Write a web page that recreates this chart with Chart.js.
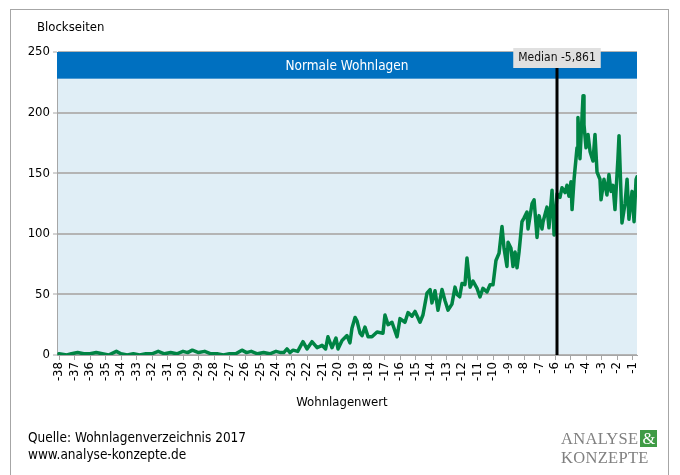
<!DOCTYPE html>
<html>
<head>
<meta charset="utf-8">
<script src="https://cdn.jsdelivr.net/npm/chart.js@4"></script>
<style>
  body { margin: 0; background: #fff; font-family: 'DejaVu Sans Condensed', 'DejaVu Sans', sans-serif; }
  #wrap { position: relative; width: 680px; height: 475px; overflow: hidden; }
  #frame { position: absolute; left: 10px; top: 9px; width: 657px; height: 500px; border: 1px solid #a6a6a6; }
  canvas { position: absolute; left: 0; top: 0; }
  .txt { position: absolute; font-size: 13px; color: #000; white-space: nowrap; }
  .foot { font-size: 13.5px; }
  #logo { position: absolute; left: 561px; top: 429px; font-family: 'Liberation Serif', serif; color: #808080; font-size: 16.5px; line-height: 19px; letter-spacing: 0.3px; }
  #logo .amp { display: inline-block; background: #3f9b45; color: #fff; width: 17px; text-align: center; line-height: 17px; margin-left: 2px; }
</style>
</head>
<body>
<div id="wrap">
  <div id="frame"></div>
  <canvas id="chart" width="680" height="475"></canvas>
  <div class="txt" style="left:37px; top:19px;">Blockseiten</div>
  <div class="txt" style="left:0; width:684px; text-align:center; top:394px;">Wohnlagenwert</div>
  <div class="txt foot" style="left:28px; top:429px;">Quelle: Wohnlagenverzeichnis 2017</div>
  <div class="txt foot" style="left:28px; top:446px;">www.analyse-konzepte.de</div>
  <div id="logo">ANALYSE<span class="amp">&amp;</span><br>KONZEPTE</div>
</div>
<script>
// Wohnlagenwert (x) and number of Blockseiten (y)
const xValues = [
  -38.0, -37.5, -37.2, -36.8, -36.4, -36.0, -35.6, -35.2, -34.8, -34.3,
  -34.0, -33.6, -33.2, -32.8, -32.4, -32.0, -31.6, -31.2, -30.8, -30.4,
  -30.0, -29.7, -29.4, -29.0, -28.6, -28.2, -27.8, -27.4, -27.0, -26.6,
  -26.2, -25.9, -25.6, -25.2, -24.8, -24.4, -24.0, -23.7, -23.5, -23.29,
  -23.1, -22.9, -22.6, -22.26, -22.0, -21.68, -21.35, -21.03, -20.8, -20.65,
  -20.39, -20.13, -20.0, -19.74, -19.42, -19.23, -19.10, -18.90, -18.77, -18.58,
  -18.45, -18.26, -18.06, -17.81, -17.48, -17.10, -16.97, -16.77, -16.52, -16.19,
  -16.0, -15.68, -15.48, -15.23, -15.03, -14.71, -14.52, -14.26, -14.06, -13.94,
  -13.74, -13.55, -13.29, -13.10, -12.90, -12.65, -12.45, -12.32, -12.15, -12.0,
  -11.81, -11.68, -11.48, -11.29, -11.03, -10.84, -10.65, -10.39, -10.19, -10.0,
  -9.81, -9.61, -9.42, -9.29, -9.10, -9.03, -8.84, -8.71, -8.58, -8.45,
  -8.32, -8.13, -8.0, -7.81, -7.74, -7.48, -7.35, -7.16, -7.03, -6.84,
  -6.77, -6.52, -6.39, -6.19, -6.06, -5.87, -5.68, -5.55, -5.35, -5.23,
  -5.10, -4.97, -4.90, -4.77, -4.58, -4.52, -4.39, -4.19, -4.13, -4.0,
  -3.87, -3.74, -3.55, -3.42, -3.29, -3.10, -3.03, -2.84, -2.65, -2.52,
  -2.39, -2.26, -2.13, -1.94, -1.87, -1.68, -1.48, -1.35, -1.23, -1.03,
  -0.90, -0.77, -0.71
];
const blockseiten = [
  1, 0, 1, 2, 1, 1, 2, 1, 0, 3,
  1, 0, 1, 0, 1, 1, 3, 1, 2, 1,
  3, 2, 4, 2, 3, 1, 1, 0, 1, 1,
  4, 2, 3, 1, 2, 1, 3, 2, 2, 5,
  2, 4, 3, 11, 5, 11, 6, 8, 5, 15,
  6, 14, 5, 12, 16, 10, 22, 31, 28, 18,
  16, 23, 15, 15, 19, 18, 33, 25, 27, 15,
  30, 27, 35, 32, 36, 27, 33, 51, 54, 43,
  53, 37, 54, 45, 37, 42, 56, 50, 48, 59,
  58, 80, 56, 61, 55, 48, 55, 52, 58, 58,
  78, 84, 106, 88, 73, 93, 88, 73, 85, 72,
  85, 110, 113, 118, 104, 125, 128, 97, 115, 104,
  110, 122, 105, 136, 99, 133, 130, 138, 134, 140,
  131, 143, 120, 145, 171, 196, 162, 214, 190, 171,
  182, 168, 160, 182, 151, 145, 128, 145, 132, 149,
  135, 140, 120, 162, 181, 109, 125, 145, 112, 135,
  110, 145, 147
];
const xTicks = [];
for (let t = -38; t <= -1; t++) xTicks.push(t);
const yTicks = [0, 50, 100, 150, 200, 250];

const medianValue = -5.861;
const medianLabel = 'Median -5,861';
const bandTitle = 'Normale Wohnlagen';
const bandBottom = 228;

const decor = {
  id: 'decor',
  beforeDraw(chart) {
    const { ctx, chartArea: a } = chart;
    ctx.save();
    ctx.fillStyle = '#e0eef6';
    ctx.fillRect(a.left, a.top, a.right - a.left, a.bottom - a.top);
    ctx.restore();
  },
  beforeDatasetsDraw(chart) {
    const { ctx, chartArea: a, scales } = chart;
    const yb = scales.y.getPixelForValue(bandBottom);
    ctx.save();
    ctx.fillStyle = '#0070c0';
    ctx.fillRect(a.left, a.top, a.right - a.left, yb - a.top);
    ctx.fillStyle = '#fff';
    ctx.font = "13.5px 'DejaVu Sans Condensed', 'DejaVu Sans', sans-serif";
    ctx.textAlign = 'center';
    ctx.textBaseline = 'middle';
    ctx.fillText(bandTitle, (a.left + a.right) / 2, (a.top + yb) / 2 + 1);
    ctx.restore();
  },
  afterDatasetsDraw(chart) {
    const { ctx, chartArea: a, scales } = chart;
    const xm = Math.round(scales.x.getPixelForValue(medianValue));
    ctx.save();
    ctx.strokeStyle = '#000';
    ctx.lineWidth = 3;
    ctx.beginPath();
    ctx.moveTo(xm, a.top + 10);
    ctx.lineTo(xm, a.bottom);
    ctx.stroke();
    ctx.font = "12px 'DejaVu Sans Condensed', 'DejaVu Sans', sans-serif";
    const w = ctx.measureText(medianLabel).width + 10;
    ctx.fillStyle = '#e0e0e0';
    ctx.fillRect(xm - w / 2, a.top - 4, w, 20);
    ctx.fillStyle = '#111';
    ctx.textAlign = 'center';
    ctx.textBaseline = 'middle';
    ctx.fillText(medianLabel, xm, a.top + 6);
    ctx.restore();
  }
};

new Chart(document.getElementById('chart'), {
  type: 'line',
  data: {
    datasets: [{
      data: xValues.map((x, i) => ({ x: x, y: blockseiten[i] })),
      borderColor: '#008444',
      borderWidth: 3.5,
      pointRadius: 0,
      tension: 0,
      borderJoinStyle: 'round',
      borderCapStyle: 'round'
    }]
  },
  options: {
    responsive: false,
    animation: false,
    devicePixelRatio: 1,
    layout: { padding: { left: 10, right: 43, top: 52, bottom: 80 } },
    plugins: { legend: { display: false }, tooltip: { enabled: false } },
    scales: {
      x: {
        type: 'linear',
        min: -38.13,
        max: -0.71,
        afterBuildTicks: s => { s.ticks = xTicks.map(v => ({ value: v })); },
        afterFit: s => { s.height = 40; },
        border: { color: '#a6a6a6', width: 1 },
        grid: { drawOnChartArea: false, drawTicks: true, tickLength: 5, color: '#a6a6a6' },
        ticks: {
          minRotation: 90, maxRotation: 90, autoSkip: false, padding: 2,
          color: '#000',
          font: { family: "'DejaVu Sans Condensed', 'DejaVu Sans', sans-serif", size: 13 }
        }
      },
      y: {
        min: 0,
        max: 250,
        afterBuildTicks: s => { s.ticks = yTicks.map(v => ({ value: v })); },
        afterFit: s => { s.width = 47; },
        border: { color: '#a6a6a6', width: 1 },
        grid: { color: '#b4b4b4', lineWidth: 2, tickLength: 4, tickColor: '#a6a6a6', tickWidth: 1 },
        ticks: {
          color: '#000', padding: 3,
          font: { family: "'DejaVu Sans Condensed', 'DejaVu Sans', sans-serif", size: 13 }
        }
      }
    }
  },
  plugins: [decor]
});
</script>
</body>
</html>
